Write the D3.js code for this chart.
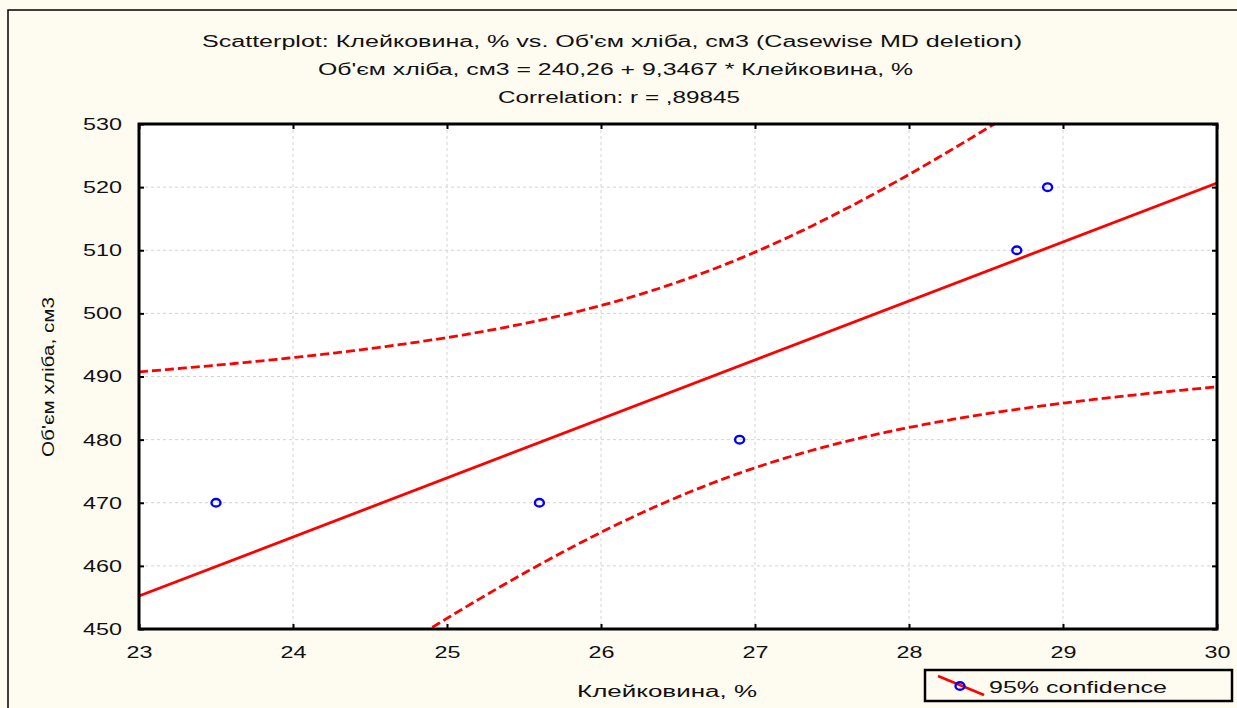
<!DOCTYPE html>
<html>
<head>
<meta charset="utf-8">
<script src="https://cdn.jsdelivr.net/npm/d3@7"></script>
<style>
  html, body { margin: 0; padding: 0; background: #fefbf1; }
  svg { display: block; }
  text { font-family: "Liberation Sans", Arial, sans-serif; fill: #111; }
</style>
</head>
<body>
<svg id="chart" width="1237" height="708"></svg>
<script>
// ---- data ----
const titleLines = [
  "Scatterplot: Клейковина, % vs. Об'єм хліба, см3 (Casewise MD deletion)",
  "Об'єм хліба, см3 = 240,26 + 9,3467 * Клейковина, %",
  "Correlation: r = ,89845"
];
const xLabel = "Клейковина, %";
const yLabel = "Об'єм хліба, см3";
const legendLabel = "95% confidence";
const xValues = [23.5, 25.6, 26.9, 28.7, 28.9];
const yValues = [470, 470, 480, 510, 520];
const xTicks = [23, 24, 25, 26, 27, 28, 29, 30];
const yTicks = [450, 460, 470, 480, 490, 500, 510, 520, 530];
const intercept = 240.26;
const slope = 9.3467;
const tCrit = 3.182; // t(0.975, n-2 = 3)

// ---- layout ----
const svg = d3.select("#chart");
const L = 139, R = 1217, T = 124, B = 629;
const x = d3.scaleLinear().domain([23, 30]).range([L, R]);
const y = d3.scaleLinear().domain([450, 530]).range([B, T]);

// outer frame
svg.append("rect").attr("x", 8).attr("y", 10).attr("width", 1240).attr("height", 710)
  .attr("fill", "#fefbf1").attr("stroke", "#000").attr("stroke-width", 1.5);

// titles
const titleMid = [612, 615.5, 619];
const titleLen = [820, 595, 242];
const titleBase = [47, 75, 103];
titleLines.forEach((t, i) => {
  svg.append("text").attr("x", titleMid[i]).attr("y", titleBase[i])
    .attr("text-anchor", "middle").attr("font-size", 16)
    .attr("textLength", titleLen[i]).attr("lengthAdjust", "spacingAndGlyphs")
    .text(t);
});

// plot background
svg.append("rect").attr("x", L).attr("y", T).attr("width", R - L).attr("height", B - T)
  .attr("fill", "#ffffff");

// grid
const grid = svg.append("g").attr("stroke", "#d2d2d2").attr("stroke-width", 1)
  .attr("stroke-dasharray", "3,3");
grid.selectAll("line.vx").data(xTicks.slice(1, -1)).join("line")
  .attr("x1", d => x(d)).attr("x2", d => x(d)).attr("y1", T).attr("y2", B);
grid.selectAll("line.hy").data(yTicks.slice(1, -1)).join("line")
  .attr("y1", d => y(d)).attr("y2", d => y(d)).attr("x1", L).attr("x2", R);

// clip
svg.append("clipPath").attr("id", "clip").append("rect")
  .attr("x", L).attr("y", T).attr("width", R - L).attr("height", B - T);
const plot = svg.append("g").attr("clip-path", "url(#clip)");

// regression + confidence bands
const n = xValues.length;
const mx = d3.mean(xValues);
const sxx = d3.sum(xValues, v => (v - mx) ** 2);
const sse = d3.sum(xValues.map((v, i) => (yValues[i] - (intercept + slope * v)) ** 2));
const s = Math.sqrt(sse / (n - 2));
const fit = v => intercept + slope * v;
const half = v => tCrit * s * Math.sqrt(1 / n + (v - mx) ** 2 / sxx);
const grid_x = d3.range(23, 30.0001, 0.02);
const line = d3.line().x(d => x(d[0])).y(d => y(d[1]));

plot.append("path").datum(grid_x.map(v => [v, fit(v) + half(v)]))
  .attr("d", line).attr("fill", "none").attr("stroke", "#ff0000")
  .attr("stroke-width", 2.8).attr("stroke-dasharray", "9,4");
plot.append("path").datum(grid_x.map(v => [v, fit(v) - half(v)]))
  .attr("d", line).attr("fill", "none").attr("stroke", "#ff0000")
  .attr("stroke-width", 2.8).attr("stroke-dasharray", "9,4");
plot.append("path").datum([23, 30].map(v => [v, fit(v)]))
  .attr("d", line).attr("fill", "none").attr("stroke", "#ff0000")
  .attr("stroke-width", 2.8);

// points
plot.selectAll("ellipse.pt").data(xValues).join("ellipse")
  .attr("cx", d => x(d)).attr("cy", (d, i) => y(yValues[i]))
  .attr("rx", 4.5).attr("ry", 3.8)
  .attr("fill", "none").attr("stroke", "#0000ff").attr("stroke-width", 2.4);

// axes
function styleAxis(g, hideText) {
  g.select(".domain").remove();
  g.selectAll(".tick line").attr("stroke", "#000").attr("stroke-width", 2);
  if (hideText) g.selectAll(".tick text").remove();
  else g.selectAll(".tick text")
    .attr("font-size", 17).attr("font-family", "Liberation Sans, Arial, sans-serif")
    .attr("fill", "#111")
    .attr("textLength", function() { return this.textContent.length * 13; })
    .attr("lengthAdjust", "spacingAndGlyphs");
}
svg.append("g").attr("transform", `translate(0,${B})`)
  .call(d3.axisBottom(x).tickValues(xTicks).tickFormat(d3.format("d"))
    .tickSizeInner(-5).tickSizeOuter(0).tickPadding(17))
  .call(g => styleAxis(g, false));
svg.append("g").attr("transform", `translate(${L},0)`)
  .call(d3.axisLeft(y).tickValues(yTicks).tickFormat(d3.format("d"))
    .tickSizeInner(-5).tickSizeOuter(0).tickPadding(17))
  .call(g => styleAxis(g, false));
svg.append("g").attr("transform", `translate(0,${T})`)
  .call(d3.axisTop(x).tickValues(xTicks).tickSizeInner(-5).tickSizeOuter(0))
  .call(g => styleAxis(g, true));
svg.append("g").attr("transform", `translate(${R},0)`)
  .call(d3.axisRight(y).tickValues(yTicks).tickSizeInner(-5).tickSizeOuter(0))
  .call(g => styleAxis(g, true));

// plot frame
svg.append("rect").attr("x", L).attr("y", T).attr("width", R - L).attr("height", B - T)
  .attr("fill", "none").attr("stroke", "#000").attr("stroke-width", 3);

// axis titles
svg.append("text").attr("x", 667).attr("y", 697).attr("text-anchor", "middle")
  .attr("font-size", 16).attr("textLength", 180).attr("lengthAdjust", "spacingAndGlyphs")
  .text(xLabel);
svg.append("text").attr("transform", "translate(54,377) rotate(-90)")
  .attr("text-anchor", "middle").attr("font-size", 16)
  .attr("textLength", 160).attr("lengthAdjust", "spacingAndGlyphs")
  .text(yLabel);

// legend
const lg = svg.append("g");
lg.append("rect").attr("x", 925).attr("y", 670).attr("width", 307).attr("height", 31)
  .attr("fill", "#fefbf1").attr("stroke", "#000").attr("stroke-width", 2.5);
lg.append("line").attr("x1", 938).attr("y1", 676).attr("x2", 984).attr("y2", 695)
  .attr("stroke", "#ff0000").attr("stroke-width", 2.5);
lg.append("ellipse").attr("cx", 960).attr("cy", 686).attr("rx", 4.5).attr("ry", 3.8)
  .attr("fill", "none").attr("stroke", "#0000ff").attr("stroke-width", 2.4);
lg.append("text").attr("x", 989).attr("y", 693).attr("font-size", 17)
  .attr("textLength", 178).attr("lengthAdjust", "spacingAndGlyphs")
  .text(legendLabel);
</script>
</body>
</html>
